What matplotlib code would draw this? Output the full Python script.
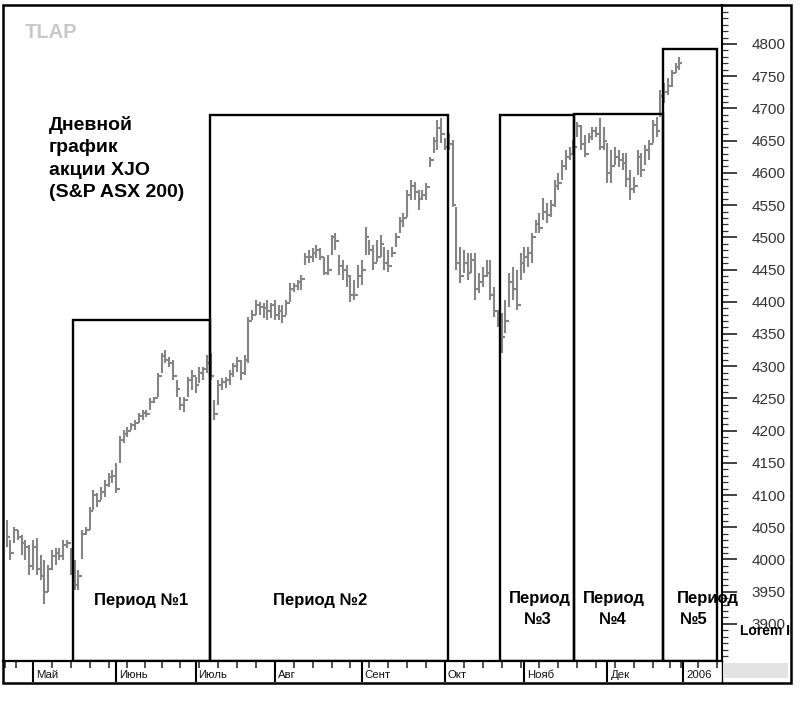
import matplotlib
matplotlib.use("Agg")
import matplotlib.pyplot as plt
import numpy as np
import pandas as pd
from matplotlib.patches import Rectangle
from matplotlib.ticker import MultipleLocator
from matplotlib.transforms import Bbox

plt.rcParams['font.family'] = ['Liberation Sans', 'DejaVu Sans']

# ---------------- data ----------------
asx_holidays = ['2005-04-25', '2005-06-13', '2005-12-26', '2005-12-27', '2006-01-02']
first_date = '2005-04-20'
last_date = '2005-12-30'

highs = [4061, 4030, 4050, 4046, 4038, 4030, 4022, 4030, 4033, 4007,
         3999, 3991, 4015, 4018, 4018, 4030, 4030, 4018, 3999, 3984,
         4046, 4050, 4081, 4108, 4103, 4112, 4123, 4134, 4139, 4150,
         4192, 4201, 4206, 4212, 4216, 4227, 4232, 4232, 4251, 4252,
         4289, 4320, 4325, 4314, 4310, 4279, 4252, 4252, 4283, 4294,
         4283, 4299, 4299, 4317, 4320, 4247, 4279, 4282, 4283, 4294,
         4305, 4314, 4310, 4317, 4376, 4387, 4403, 4400, 4398,
         4403, 4398, 4403, 4395, 4395, 4403, 4429, 4429, 4434, 4441,
         4476, 4480, 4483, 4488, 4483, 4469, 4472, 4503, 4507, 4472,
         4465, 4457, 4441, 4434, 4457, 4465, 4516, 4496, 4488, 4496,
         4503, 4485, 4480, 4485, 4507, 4532, 4538, 4573, 4589, 4586,
         4573, 4573, 4584, 4625, 4656, 4682, 4685, 4654, 4662,
         4651, 4547, 4485, 4480, 4476, 4476, 4476, 4445, 4454, 4465,
         4465, 4423, 4387, 4382, 4403, 4445, 4454, 4449, 4476, 4485,
         4485, 4507, 4527, 4538, 4561, 4553, 4558, 4589, 4600, 4620,
         4635, 4640, 4651, 4679, 4674, 4659, 4662, 4671, 4671, 4685,
         4671, 4646, 4635, 4640, 4635, 4631, 4631, 4604, 4594,
         4635, 4631, 4643, 4651, 4682, 4687, 4729, 4740, 4747, 4760, 4770, 4780]

lows = [4019, 3999, 4026, 4030, 4007, 3999, 3976, 3984, 3976, 3968,
        3931, 3950, 3984, 3991, 3999, 3999, 4018, 3976, 3953, 3953,
        4000, 4038, 4046, 4077, 4081, 4092, 4097, 4112, 4118, 4103,
        4150, 4180, 4190, 4201, 4201, 4212, 4216, 4221, 4232, 4243,
        4252, 4289, 4305, 4299, 4279, 4252, 4232, 4229, 4252, 4263,
        4258, 4274, 4279, 4289, 4279, 4216, 4240, 4263, 4266, 4271,
        4283, 4291, 4279, 4286, 4305, 4372, 4380, 4380, 4375,
        4372, 4375, 4372, 4372, 4367, 4380, 4400, 4415, 4418, 4418,
        4457, 4460, 4462, 4468, 4465, 4441, 4441, 4472, 4480, 4441,
        4434, 4423, 4400, 4403, 4421, 4426, 4472, 4472, 4449, 4462,
        4469, 4449, 4446, 4469, 4485, 4507, 4516, 4532, 4558, 4558,
        4542, 4558, 4558, 4609, 4631, 4635, 4646, 4635, 4635,
        4547, 4449, 4429, 4445, 4434, 4445, 4403, 4414, 4423, 4438,
        4403, 4376, 4361, 4320, 4351, 4392, 4403, 4387, 4434, 4445,
        4454, 4460, 4507, 4507, 4527, 4522, 4532, 4547, 4573, 4589,
        4604, 4620, 4631, 4656, 4635, 4625, 4646, 4651, 4656, 4635,
        4635, 4584, 4584, 4612, 4609, 4604, 4578, 4558, 4569,
        4597, 4594, 4612, 4620, 4646, 4656, 4687, 4708, 4721, 4733, 4755, 4760]

closes = [4035, 4010, 4045, 4035, 4025, 4020, 3990, 4020, 3985, 3975,
          3950, 3985, 4005, 4010, 4005, 4022, 4025, 3985, 3960, 3975,
          4040, 4045, 4075, 4100, 4090, 4105, 4115, 4128, 4130, 4110,
          4185, 4195, 4200, 4208, 4212, 4222, 4228, 4225, 4245, 4250,
          4285, 4315, 4310, 4305, 4285, 4265, 4240, 4248, 4278, 4285,
          4270, 4290, 4295, 4305, 4285, 4225, 4270, 4275, 4278, 4288,
          4300, 4308, 4290, 4310, 4370, 4380, 4395, 4392, 4390,
          4385, 4395, 4380, 4385, 4378, 4398, 4420, 4425, 4430, 4435,
          4470, 4470, 4475, 4480, 4470, 4445, 4450, 4500, 4495, 4455,
          4450, 4440, 4410, 4410, 4440, 4450, 4500, 4480, 4460, 4470,
          4490, 4460, 4455, 4475, 4500, 4525, 4530, 4565, 4580, 4570,
          4560, 4565, 4578, 4620, 4650, 4670, 4660, 4640, 4645,
          4550, 4460, 4440, 4460, 4445, 4465, 4420, 4430, 4440, 4445,
          4410, 4385, 4372, 4345, 4370, 4430, 4420, 4395, 4460, 4470,
          4475, 4500, 4520, 4515, 4540, 4535, 4550, 4580, 4585, 4610,
          4625, 4630, 4640, 4672, 4645, 4630, 4655, 4665, 4660, 4640,
          4650, 4600, 4610, 4625, 4620, 4615, 4590, 4575, 4580,
          4625, 4605, 4635, 4645, 4675, 4665, 4720, 4725, 4735, 4755, 4765, 4770]

month_labels = ["Май", "Июнь", "Июль", "Авг", "Сент", "Окт", "Нояб", "Дек", "2006"]
month_starts = ['2005-05-01', '2005-06-01', '2005-07-01', '2005-08-01', '2005-09-01',
                '2005-10-01', '2005-11-01', '2005-12-01', '2006-01-01']

title_text = "Дневной\nграфик\nакции XJO\n(S&P ASX 200)"
period_names = ["Период №1", "Период №2", "Период №3", "Период №4", "Период №5"]
# period boxes: start / end trading-day position, top price
period_start = [17.6, 53.8, 130.6, 150.2, 173.7]
period_end = [53.8, 116.8, 150.2, 173.7, 188.0]
period_top = [4372, 4690, 4690, 4691, 4792]

# ---------------- calendar ----------------
cal = pd.bdate_range(first_date, '2006-02-28', freq='C', holidays=asx_holidays)
dates = cal[cal <= pd.Timestamp(last_date)]
x = np.arange(len(dates))
assert len(x) == len(highs) == len(lows) == len(closes)

W, H = 800, 701
def fx(px):
    return px / W
def fy(py):
    return 1 - py / H

fig = plt.figure(figsize=(8, 7.01), dpi=100)
fig.patch.set_facecolor('white')

ax = fig.add_axes([fx(3), fy(661), (722 - 3) / W, (661 - 5) / H])
XMIN, XMAX = -0.94, 189.3
YMIN, YMAX = 3842.4, 4860.5
ax.set_xlim(XMIN, XMAX)
ax.set_ylim(YMIN, YMAX)

bar_col = '#858585'
ax.vlines(x, lows, highs, color=bar_col, lw=1.5)
ax.hlines(closes, x, x + 0.6, color=bar_col, lw=1.5)
# connector tick on the left of each bar at the previous session's close
ax.hlines(closes[:-1], x[1:] - 0.6, x[1:], color=bar_col, lw=1.5)

# period boxes
for s, e, t in zip(period_start, period_end, period_top):
    ax.add_patch(Rectangle((s, YMIN), e - s, t - YMIN, fill=False,
                           edgecolor='black', lw=1.7, zorder=3, clip_on=False))

for side in ['left', 'top', 'bottom']:
    ax.spines[side].set_visible(False)
ax.spines['right'].set_color('black')
ax.spines['right'].set_linewidth(1.5)

ax.set_xticks([])
ax.yaxis.tick_right()
ax.set_yticks(np.arange(3900, 4801, 50))
ax.yaxis.set_minor_locator(MultipleLocator(10))
ax.tick_params(axis='y', which='major', direction='out', length=11, width=1.3,
               color='#333333', labelsize=11, labelcolor='#333333', pad=10)
ax.tick_params(axis='y', which='minor', direction='out', length=4, width=0.9,
               color='#333333')
ax.set_ylim(YMIN, YMAX)

# ---------------- date strip ----------------
axb = fig.add_axes([fx(3), fy(682), (722 - 3) / W, (682 - 661) / H])
axb.set_xlim(XMIN, XMAX)
axb.set_ylim(0, 1)
axb.set_xticks([])
axb.set_yticks([])
for side in ['left', 'bottom']:
    axb.spines[side].set_visible(False)
axb.spines['top'].set_linewidth(1.6)
axb.spines['right'].set_linewidth(1.0)

# weekly ticks (Mondays; half step back when Monday is a holiday)
mondays = pd.date_range('2005-04-18', '2006-01-30', freq='W-MON')
week_pos = []
for m in mondays:
    p = cal.searchsorted(m)
    if p >= len(cal):
        continue
    week_pos.append(p if cal[p] == m else p - 0.5)
week_pos = [p for p in week_pos if XMIN < p < XMAX]
axb.vlines(week_pos, 1 - 7 / 21, 1, color='#333333', lw=1.2)

for lab, ms in zip(month_labels, month_starts):
    p = cal.searchsorted(pd.Timestamp(ms))
    axb.vlines([p], 0, 1, color='black', lw=1.5)
    axb.text(p + 0.8, 0.32, lab, fontsize=8.2, ha='left', va='center', color='#111111')

# ---------------- texts ----------------
fig.text(fx(25), fy(23), "TLAP", fontsize=14.5, fontweight='bold', color='#c8c8c8',
         ha='left', va='top')
fig.text(fx(49), fy(116), title_text, fontsize=14, fontweight='bold', color='black',
         ha='left', va='top', linespacing=1.42)

lab_kw = dict(fontsize=12, fontweight='bold', color='black', va='center')
fig.text(fx(141), fy(600), period_names[0], ha='center', **lab_kw)
fig.text(fx(320), fy(600), period_names[1], ha='center', **lab_kw)
for name, cx1, cx2 in zip(period_names[2:], [540, 614, 708], [538, 613, 694]):
    w1, w2 = name.split(' ')
    fig.text(fx(cx1), fy(598), w1, ha='center', **lab_kw)
    fig.text(fx(cx2), fy(619), w2, ha='center', **lab_kw)

lt = fig.text(fx(740), fy(631), "Lorem Ipsum", fontsize=10, fontweight='bold',
              color='black', ha='left', va='center')
lt.set_clip_box(Bbox.from_extents(0, 0, 790, 701))
lt.set_clip_on(True)

# grey box at bottom right
fig.add_artist(Rectangle((fx(723), fy(678)), (788 - 723) / W, (678 - 663) / H,
                         transform=fig.transFigure, facecolor='#e3e3e3',
                         edgecolor='none'))
# outer frame
fig.add_artist(Rectangle((fx(3), fy(683)), (791 - 3) / W, (683 - 5) / H,
                         transform=fig.transFigure, fill=False,
                         edgecolor='black', lw=1.8))

fig.savefig('out.png', dpi=100, facecolor='white')
